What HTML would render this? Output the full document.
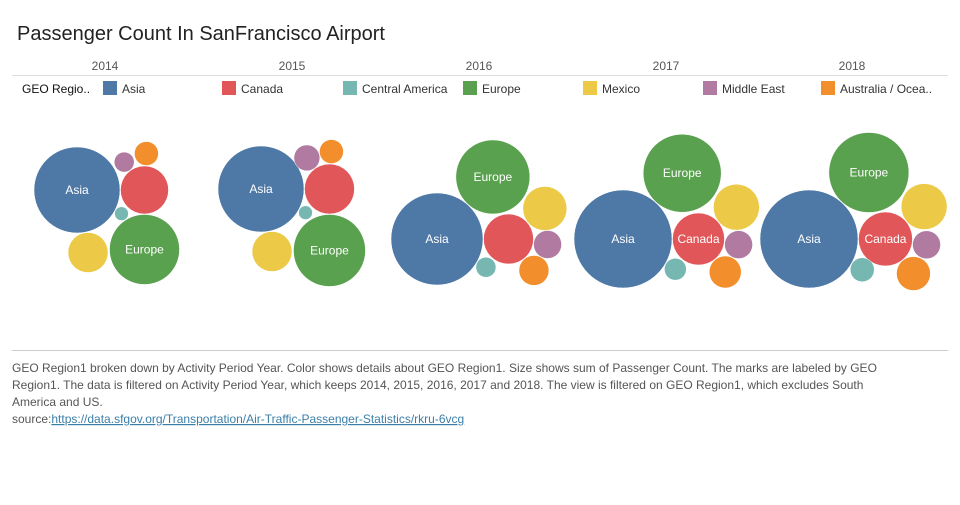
<!DOCTYPE html>
<html><head><meta charset="utf-8">
<style>
body{margin:0;background:#fff;width:960px;height:500px;overflow:hidden;font-family:"Liberation Sans",sans-serif;}
</style></head>
<body>
<svg width="960" height="500">
<text x="17" y="40" font-size="20" fill="#222">Passenger Count In SanFrancisco Airport</text>
<line x1="12" y1="75.5" x2="948" y2="75.5" stroke="#ddd"/>
<text x="22" y="93" font-size="12" fill="#111">GEO Regio..</text>
<g id="legend"></g>
<g id="years"></g>
<g id="bubbles"></g>
<line x1="12" y1="350.5" x2="948" y2="350.5" stroke="#ccc"/>
<text font-size="12" fill="#555">
<tspan x="12" y="372">GEO Region1 broken down by Activity Period Year.  Color shows details about GEO Region1.  Size shows sum of Passenger Count.  The marks are labeled by GEO</tspan>
<tspan x="12" y="389">Region1. The data is filtered on Activity Period Year, which keeps 2014, 2015, 2016, 2017 and 2018. The view is filtered on GEO Region1, which excludes South</tspan>
<tspan x="12" y="406">America and US.</tspan>
<tspan x="12" y="423">source:<tspan fill="#3b7fa8" text-decoration="underline">https://data.sfgov.org/Transportation/Air-Traffic-Passenger-Statistics/rkru-6vcg</tspan></tspan>
</text>
</svg>
<script>
const years=["2014","2015","2016","2017","2018"];
const regions=["Asia","Canada","Central America","Europe","Mexico","Middle East","Australia / Ocea.."];
// passenger counts (millions) per region, per year
const asia=[4.62,4.62,5.29,6.0,6.0];
const canada=[1.44,1.56,1.56,1.69,1.82];
const centralAmerica=[0.12,0.12,0.25,0.30,0.36];
const europe=[3.06,3.24,3.42,3.80,4.0];
const mexico=[1.0,1.0,1.21,1.32,1.32];
const middleEast=[0.25,0.42,0.49,0.49,0.49];
const australia=[0.36,0.36,0.56,0.64,0.72];
const series=[asia,canada,centralAmerica,europe,mexico,middleEast,australia];
const colors=["#4e79a7","#e15759","#76b7b2","#59a14f","#edc948","#b07aa1","#f28e2b"];
const NS="http://www.w3.org/2000/svg";
function mk(t,a,p){const e=document.createElementNS(NS,t);for(const k in a)e.setAttribute(k,a[k]);p.appendChild(e);return e;}
const rScale=v=>20*Math.sqrt(v);
// legend
const lg=document.getElementById('legend');
const legX=[103,222,343,463,583,703,821];
regions.forEach((r,i)=>{
  const s=mk('rect',{x:legX[i],y:81,width:14,height:14,fill:colors[i]},lg);
  
  
  const t=mk('text',{x:legX[i]+19,y:93,'font-size':12,fill:'#333'},lg);t.textContent=r;
  
  
});
// year headers
const yg=document.getElementById('years');
const colX=[105,292,479,666,852];
years.forEach((y,i)=>{
  const t=mk('text',{x:colX[i],y:70,'font-size':12,fill:'#555','text-anchor':'middle'},yg);t.textContent=y;
  
  
});
// layout: anchor of Asia per year, then tangent placement [parent, angle deg]
const asiaAnchor=[[77,190],[261,189],[437,239],[623,239],[809,239]];
const layoutA={1:[0,0],3:[1,90],4:[0,80],5:[1,-126],6:[1,-87],2:[0,28]};
const layoutB={1:[0,0],3:[0,-48],4:[1,-40],5:[1,8],6:[1,51],2:[0,30]};
const order=[1,3,4,5,6,2];
const bg=document.getElementById('bubbles');
years.forEach((y,yi)=>{
  const L=yi<2?layoutA:layoutB;
  const pos=[];const rad=series.map(s=>rScale(s[yi]));
  pos[0]=asiaAnchor[yi];
  order.forEach(k=>{const [p,a]=L[k];const d=rad[p]+rad[k]+0.5;const ang=a*Math.PI/180;
    pos[k]=[pos[p][0]+d*Math.cos(ang),pos[p][1]+d*Math.sin(ang)];});
  series.forEach((s,k)=>{
    const c=mk('circle',{cx:pos[k][0],cy:pos[k][1],r:rad[k],fill:colors[k],stroke:'#fff','stroke-width':0.5},bg);
    
    
    if(rad[k]>=26){const t=mk('text',{x:pos[k][0],y:pos[k][1]+4,'font-size':12,fill:'#fff','text-anchor':'middle'},bg);
      t.textContent=regions[k];
      
      }
  });
});
</script>
</body></html>
